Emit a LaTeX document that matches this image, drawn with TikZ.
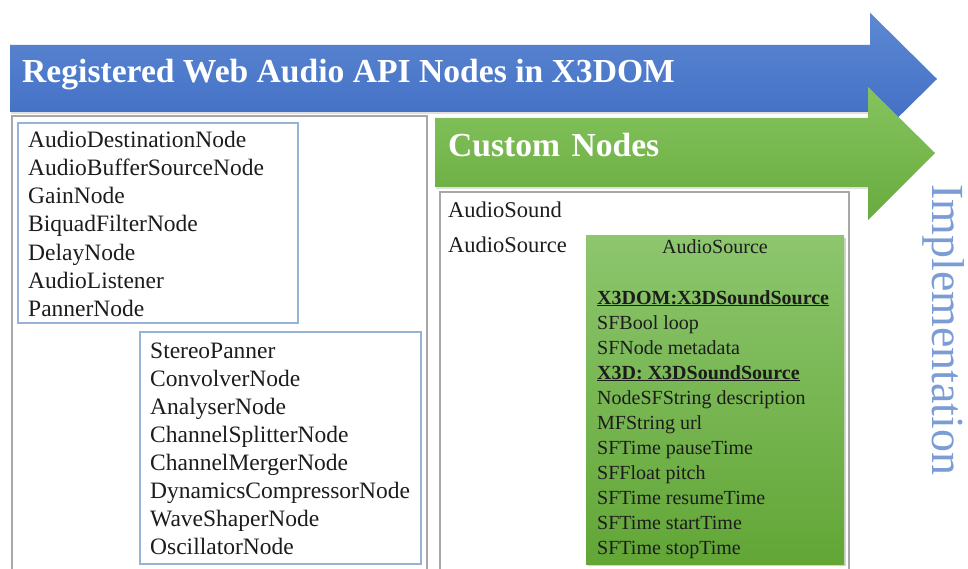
\documentclass[tikz,border=0pt]{standalone}
\usepackage{fontspec}
\setmainfont{Liberation Serif}
\definecolor{blueTop}{HTML}{5D88D3}
\definecolor{blueBot}{HTML}{3D6BC2}
\definecolor{greenTop}{HTML}{86C45E}
\definecolor{greenBot}{HTML}{68AB3F}
\definecolor{gboxTop}{HTML}{8DC66E}
\definecolor{gboxBot}{HTML}{62A636}
\definecolor{panelGray}{HTML}{A8A8A8}
\definecolor{boxBlue}{HTML}{95B3D7}
\definecolor{implBlue}{HTML}{7C9CD6}
\definecolor{txt}{HTML}{1C1C1C}
\tikzset{
  listtext/.style={font=\fontsize{23.5}{28}\selectfont, text=txt, inner sep=0pt, anchor=base west},
  srctext/.style={font=\fontsize{22.5}{27}\selectfont, text=txt, inner sep=0pt, anchor=base west},
  gtext/.style={font=\fontsize{20}{25}\selectfont, text=txt, inner sep=0pt, anchor=base west},
  titletext/.style={font=\fontsize{33.6}{38}\selectfont\bfseries, text=white, inner sep=0pt, anchor=base west},
  panel/.style={draw=panelGray, line width=1.4pt, fill=white},
  bluebox/.style={draw=boxBlue, line width=1.3pt},
  arrowshadow/.style={fill=black!25, opacity=0.5},
}
\begin{document}
\begin{tikzpicture}[x=1pt,y=-1pt]
\useasboundingbox (0,0) rectangle (968,569);
\begin{scope}
\clip (0,0) rectangle (968,569);
% panels
\draw[panel] (12,116) rectangle (427,580);
\draw[panel] (440,192) rectangle (849,580);
% blue arrow shadow and body
\fill[arrowshadow] (11,47) -- (870,47) -- (870,114.5) -- (11,114.5) -- cycle;
\shade[top color=blueTop, bottom color=blueBot] (10,45) -- (870,45) -- (870,12.7) -- (937,79) -- (870,145) -- (870,112) -- (10,112) -- cycle;
% green arrow shadow and body
\fill[arrowshadow] (436,120) -- (868,120) -- (868,189.5) -- (436,189.5) -- cycle;
\shade[top color=greenTop, bottom color=greenBot] (435,118) -- (868,118) -- (868,87) -- (935,153) -- (868,220) -- (868,187) -- (435,187) -- cycle;
\node[titletext] (title) at (22,83) {Registered Web Audio API Nodes in X3DOM};
\node[titletext] (custom) at (448,157) {Custom\hspace{3pt} Nodes};
% blue boxes
\draw[bluebox] (18,123) rectangle (298,323);
\draw[bluebox] (140,332) rectangle (421,564);
\foreach \t [count=\i from 0] in {AudioDestinationNode,AudioBufferSourceNode,GainNode,BiquadFilterNode,DelayNode,AudioListener,PannerNode}
  \node[listtext] (la\i) at (28,{148+28*\i}) {\t};
\foreach \t [count=\i from 0] in {StereoPanner,ConvolverNode,AnalyserNode,ChannelSplitterNode,ChannelMergerNode,DynamicsCompressorNode,WaveShaperNode,OscillatorNode}
  \node[listtext] (lb\i) at (150,{358+28.14*\i}) {\t};
% custom nodes
\node[srctext] (sound) at (448,217.5) {AudioSound};
\node[srctext] (source) at (448,252.5) {AudioSource};
% green box
\fill[black!35, opacity=0.5] (588,238) rectangle (846,566);
\shade[top color=gboxTop, bottom color=gboxBot] (586,236) rectangle (844,564);
\node[gtext, anchor=base] (gtitle) at (715,254) {AudioSource};
\foreach \t [count=\i from 0] in {{\underline{\textbf{X3DOM:X3DSoundSource}}},SFBool loop,SFNode metadata,{\underline{\textbf{X3D: X3DSoundSource}}},NodeSFString description,MFString url,SFTime pauseTime,SFFloat pitch,SFTime resumeTime,SFTime startTime,SFTime stopTime}
  \node[gtext] (g\i) at (597,{304+25*\i}) {\t};
% vertical label
\node[font=\fontsize{46}{50}\selectfont, text=implBlue, inner sep=0pt, rotate=-90, anchor=base west] (impl) at (932,184) {Implementation};
\end{scope}
\end{tikzpicture}
\end{document}
